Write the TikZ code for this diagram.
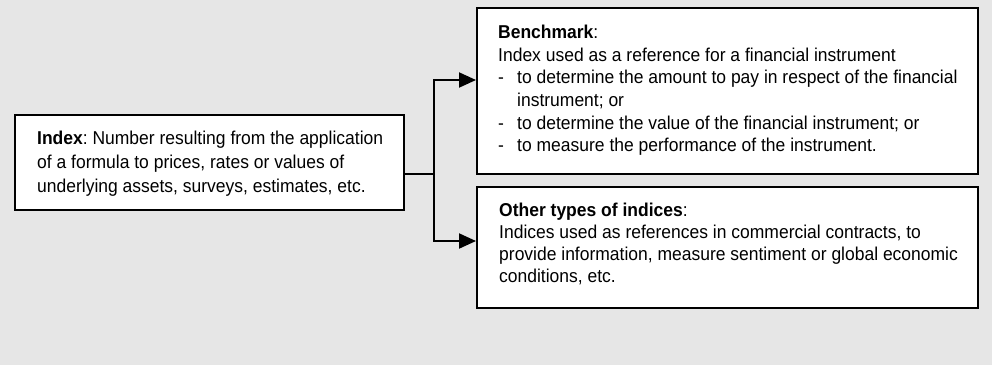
\documentclass[tikz,border=0pt]{standalone}
\usepackage{fontspec}
\setmainfont{Liberation Sans}[FakeStretch=0.94]
\usetikzlibrary{arrows.meta}
\definecolor{bggray}{HTML}{E6E6E6}
\frenchspacing
\begin{document}
\begin{tikzpicture}[x=1pt,y=-1pt,
  box/.style={draw=black,fill=white,line width=2pt,rectangle,inner sep=0pt},
  ln/.style={anchor=base west,inner sep=0pt,font=\fontsize{18.6}{21}\selectfont\frenchspacing},
  conn/.style={line width=2pt},
  arr/.style={conn,-{Triangle[length=17pt,width=15pt]}}]
\fill[bggray] (0,0) rectangle (992,365);
\useasboundingbox (0,0) rectangle (992,365);
% boxes
\node[box,minimum width=389pt,minimum height=95pt] (idx) at (209.5,162.5) {};
\node[box,minimum width=501pt,minimum height=166pt] (bench) at (727.5,91) {};
\node[box,minimum width=501pt,minimum height=121pt] (other) at (727.5,247.5) {};
% index text
\node[ln] (i1) at (37,144.3) {\textbf{Index}: Number resulting from the application};
\node[ln] (i2) at (37,168.3) {of a formula to prices, rates or values of};
\node[ln] (i3) at (37,192.3) {underlying assets, surveys, estimates, etc.};
% benchmark text
\node[ln] (b1) at (498,38.3) {\textbf{Benchmark}:};
\node[ln] (b2) at (498,61) {Index used as a reference for a financial instrument};
\node[ln] (d1) at (498,83.7) {-};
\node[ln] (b3) at (517,83.7) {to determine the amount to pay in respect of the financial};
\node[ln] (b4) at (517,106.4) {instrument; or};
\node[ln] (d2) at (498,129.1) {-};
\node[ln] (b5) at (517,129.1) {to determine the value of the financial instrument; or};
\node[ln] (d3) at (498,151.8) {-};
\node[ln] (b6) at (517,151.8) {to measure the performance of the instrument.};
% other text
\node[ln] (o1) at (499,216.3) {\textbf{Other types of indices}:};
\node[ln] (o2) at (499,238.2) {Indices used as references in commercial contracts, to};
\node[ln] (o3) at (499,260.1) {provide information, measure sentiment or global economic};
\node[ln] (o4) at (499,282) {conditions, etc.};
% connectors
\coordinate (j) at (434,174);
\draw[conn] (idx.east |- j) -- (j);
\draw[arr] (j) |- ([yshift=11pt]bench.west);
\draw[arr] (j) |- ([yshift=6.5pt]other.west);
\end{tikzpicture}
\end{document}
